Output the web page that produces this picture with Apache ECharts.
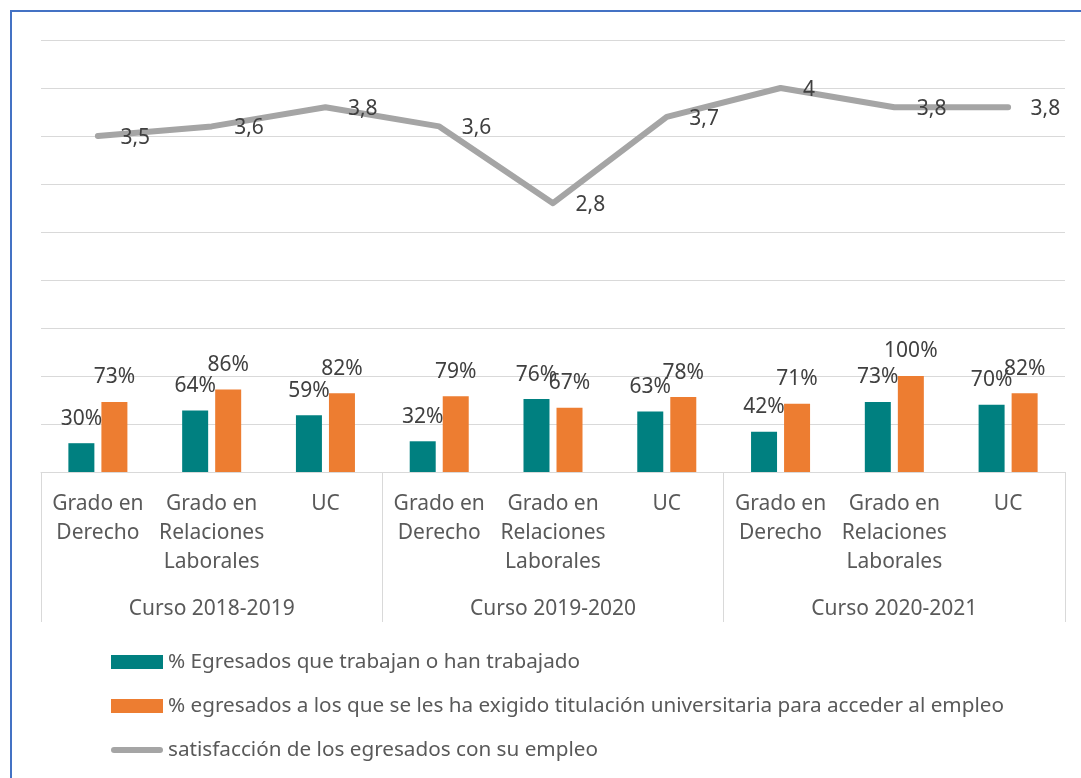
<!DOCTYPE html>
<html>
<head>
<meta charset="utf-8">
<script src="https://cdn.jsdelivr.net/npm/echarts@6/dist/echarts.min.js"></script>
<style>
  html, body { margin: 0; padding: 0; background: #fff; overflow: hidden; }
  #wrap { position: relative; width: 1081px; height: 778px; overflow: hidden; }
  #lineaTop { position: absolute; left: 10px; top: 10px; width: 1100px; height: 2px; background: #4472C4; }
  #lineaIzq { position: absolute; left: 10px; top: 10px; width: 2px; height: 800px; background: #4472C4; }
  #chart { position: absolute; left: 0; top: 0; width: 1081px; height: 778px; }
</style>
</head>
<body>
<div id="wrap">
  <div id="lineaTop"></div>
  <div id="lineaIzq"></div>
  <div id="chart"></div>
</div>
<script>
// categorias (nivel 1 y nivel 2)
const titulaciones = ['Grado en\nDerecho', 'Grado en\nRelaciones\nLaborales', 'UC',
                      'Grado en\nDerecho', 'Grado en\nRelaciones\nLaborales', 'UC',
                      'Grado en\nDerecho', 'Grado en\nRelaciones\nLaborales', 'UC'];
const cursos = ['Curso 2018-2019', 'Curso 2019-2020', 'Curso 2020-2021'];

// series
const trabajan = [0.30, 0.64, 0.59, 0.32, 0.76, 0.63, 0.42, 0.73, 0.70];
const exigido = [0.73, 0.86, 0.82, 0.79, 0.67, 0.78, 0.71, 1.00, 0.82];
const satisfaccion = [3.5, 3.6, 3.8, 3.6, 2.8, 3.7, 4, 3.8, 3.8];

const nombres = ['% Egresados que trabajan o han trabajado',
                 '% egresados a los que se les ha exigido titulación universitaria para acceder al empleo',
                 'satisfacción de los egresados con su empleo'];

const fuente = 'Noto Sans';
const grisTexto = '#595959';
const grisEtiq = '#404040';

let myChart = echarts.init(document.getElementById('chart'));

const pct = function (p) { return Math.round(p.value * 100) + '%'; };

let option = {
    animation: false,
    textStyle: { fontFamily: fuente },
    grid: { left: 41, right: 16, top: 40, bottom: 306 },
    legend: {
        orient: 'vertical',
        left: 106,
        top: 645,
        itemWidth: 52,
        itemHeight: 14,
        itemGap: 20,
        textStyle: { fontFamily: fuente, fontSize: 20.7, color: grisTexto, lineHeight: 24 },
        data: [
            { name: nombres[0], icon: 'rect' },
            { name: nombres[1], icon: 'rect' },
            { name: nombres[2], icon: 'path://M3,0H49A3,3,0,0,1,49,6H3A3,3,0,0,1,3,0Z',
              itemStyle: { color: '#A5A5A5' } }
        ]
    },
    xAxis: [
        {
            type: 'category',
            position: 'bottom',
            data: titulaciones,
            axisLine: { lineStyle: { color: '#D9D9D9', width: 1 } },
            axisTick: { show: false },
            axisLabel: {
                interval: 0,
                margin: 18,
                fontFamily: fuente,
                fontSize: 21,
                lineHeight: 29,
                color: grisTexto
            }
        },
        {
            type: 'category',
            position: 'bottom',
            data: cursos,
            axisLine: { show: false },
            axisTick: { show: true, length: 150, lineStyle: { color: '#D9D9D9', width: 1 } },
            axisLabel: {
                margin: 127,
                fontFamily: fuente,
                fontSize: 21,
                color: grisTexto
            }
        }
    ],
    yAxis: {
        type: 'value',
        min: 0,
        max: 4.5,
        interval: 0.5,
        axisLabel: { show: false },
        axisLine: { show: false },
        axisTick: { show: false },
        splitLine: { lineStyle: { color: '#D9D9D9', width: 1 } }
    },
    series: [
        {
            name: nombres[0],
            type: 'bar',
            data: trabajan,
            barWidth: 26,
            barGap: '27%',
            itemStyle: { color: '#008080' },
            label: { show: true, position: 'top', distance: 14, fontSize: 21, color: grisEtiq, formatter: pct }
        },
        {
            name: nombres[1],
            type: 'bar',
            data: exigido,
            barWidth: 26,
            barGap: '27%',
            itemStyle: { color: '#ED7D31' },
            label: { show: true, position: 'top', distance: 14, fontSize: 21, color: grisEtiq, formatter: pct }
        },
        {
            name: nombres[2],
            type: 'line',
            data: satisfaccion,
            symbol: 'circle',
            symbolSize: 1,
            showSymbol: true,
            lineStyle: { color: '#A5A5A5', width: 6, cap: 'round', join: 'round' },
            itemStyle: { color: '#A5A5A5' },
            label: {
                show: true,
                position: 'right',
                distance: 22,
                offset: [0, 2],
                fontSize: 21,
                color: grisEtiq,
                formatter: function (p) { return String(p.value).replace('.', ','); }
            },
            z: 3
        }
    ]
};

myChart.setOption(option);
</script>
</body>
</html>
